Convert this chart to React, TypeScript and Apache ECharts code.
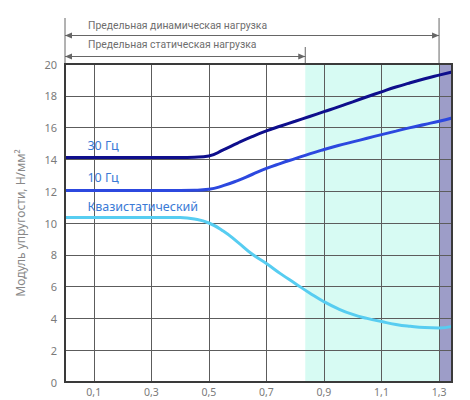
import React, { useEffect, useRef } from "react";
import * as echarts from "echarts";

const xValues = [0, 0.1, 0.2, 0.3, 0.4, 0.45, 0.5, 0.55, 0.6, 0.65, 0.7, 0.75, 0.8, 0.85, 0.9, 0.95, 1.0, 1.05, 1.1, 1.15, 1.2, 1.25, 1.3, 1.345];
const hz30 = [14.12, 14.12, 14.12, 14.12, 14.12, 14.14, 14.22, 14.6, 15.03, 15.43, 15.79, 16.1, 16.4, 16.7, 17.0, 17.3, 17.62, 17.94, 18.25, 18.55, 18.82, 19.07, 19.3, 19.5];
const hz10 = [12.05, 12.05, 12.05, 12.05, 12.05, 12.06, 12.12, 12.35, 12.67, 13.05, 13.43, 13.75, 14.05, 14.35, 14.62, 14.87, 15.1, 15.33, 15.56, 15.78, 16.0, 16.2, 16.4, 16.6];
const quasi = [10.35, 10.35, 10.35, 10.35, 10.34, 10.25, 10.0, 9.5, 8.8, 8.05, 7.45, 6.8, 6.2, 5.6, 5.05, 4.6, 4.25, 4.0, 3.8, 3.62, 3.5, 3.42, 3.4, 3.5];
const seriesNames = ["30 Гц", "10 Гц", "Квазистатический"];
const seriesLabelPos = [[0.078, 14.9], [0.078, 12.85], [0.078, 11.05]];
const xTickValues = [0.1, 0.3, 0.5, 0.7, 0.9, 1.1, 1.3];
const xMax = 1.345;
const staticLimit = 0.835;
const dynamicLimit = 1.3;
const dynamicText = "Предельная динамическая нагрузка";
const staticText = "Предельная статическая нагрузка";
const yTitle = "Модуль упругости, Н/мм²";

const FONT = "'Noto Sans', sans-serif";
const NOTE_FONT = "Roboto, 'Noto Sans', sans-serif";

export default function App() {
  const ref = useRef<HTMLDivElement>(null);
  useEffect(() => {
    document.body.style.margin = "0";
    const chart = echarts.init(ref.current!, null, { renderer: "svg" });
    const zip = (ys: number[]) => xValues.map((x, i) => [x, ys[i]]);
    const lineSeries = (name: string, ys: number[], color: string) => ({
      type: "line",
      name,
      data: zip(ys),
      smooth: 0.5,
      showSymbol: false,
      symbol: "none",
      lineStyle: { color, width: 3 },
      z: 3,
    });
    const gridColor = "#5c5c5c";
    chart.setOption({
      animation: false,
      textStyle: { fontFamily: FONT },
      grid: { left: 65, right: 18, top: 64, bottom: 18, show: false },
      xAxis: {
        type: "value",
        min: 0,
        max: xMax,
        axisLine: { show: false },
        axisTick: { show: false, customValues: xTickValues },
        axisLabel: {
          customValues: xTickValues,
          color: "#7a7a7a",
          fontSize: 10.5,
          fontFamily: FONT,
          margin: 4,
          formatter: (v: number) => String(v).replace(".", ","),
        },
        splitLine: { show: true, lineStyle: { color: gridColor, width: 1, type: "solid" } },
        z: 1,
      },
      yAxis: {
        type: "value",
        min: 0,
        max: 20,
        interval: 2,
        name: yTitle,
        nameLocation: "middle",
        nameGap: 39,
        nameTextStyle: { color: "#888", fontSize: 12, fontFamily: FONT },
        axisLine: { show: false },
        axisTick: { show: false },
        axisLabel: { color: "#7a7a7a", fontSize: 11, fontFamily: FONT, margin: 8 },
        splitLine: { show: true, lineStyle: { color: gridColor, width: 1, type: "solid" } },
        z: 1,
      },
      series: [
        {
          type: "line",
          data: [],
          z: 0,
          silent: true,
          markArea: {
            silent: true,
            z: 0,
            data: [
              [{ xAxis: staticLimit, itemStyle: { color: "#d7fbf3" } }, { xAxis: dynamicLimit }],
              [{ xAxis: dynamicLimit, itemStyle: { color: "#9d9dc8" } }, { xAxis: xMax }],
            ],
          },
        },
        lineSeries(seriesNames[0], hz30, "#0e0e8c"),
        lineSeries(seriesNames[1], hz10, "#2c48df"),
        lineSeries(seriesNames[2], quasi, "#57cdf1"),
      ],
    });

    const px = (x: number) => chart.convertToPixel({ xAxisIndex: 0 }, x) as number;
    const pt = (x: number, y: number) => chart.convertToPixel({ gridIndex: 0 }, [x, y]) as number[];
    const x0 = px(0);
    const xs = px(staticLimit);
    const xd = px(dynamicLimit);
    const xe = px(xMax);
    const top = pt(0, 20)[1];
    const bottom = pt(0, 0)[1];
    const gray = "#666";
    const yDyn = 35.5;
    const ySta = 56.5;
    const arrow = (tipX: number, y: number, dir: number) => ({
      type: "polygon",
      shape: { points: [[tipX, y], [tipX - dir * 7, y - 3], [tipX - dir * 7, y + 3]] },
      style: { fill: gray },
    });
    const vline = (x: number, y1: number) => ({
      type: "line",
      shape: { x1: x, y1, x2: x, y2: top },
      style: { stroke: gray, lineWidth: 1 },
    });
    const hline = (xa: number, xb: number, y: number) => ({
      type: "line",
      shape: { x1: xa, y1: y, x2: xb, y2: y },
      style: { stroke: gray, lineWidth: 1 },
    });
    const labelColor = "#3a7ad6";
    const labels = seriesNames.map((n, i) => {
      const p = pt(seriesLabelPos[i][0], seriesLabelPos[i][1]);
      return {
        type: "text",
        x: p[0],
        y: p[1],
        style: { text: n, fill: labelColor, fontSize: 12.5, fontFamily: FONT, textVerticalAlign: "middle", textAlign: "left" },
        z: 10,
      };
    });
    chart.setOption({
      graphic: [
        {
          type: "rect",
          shape: { x: x0, y: top, width: xe - x0, height: bottom - top },
          style: { fill: "none", stroke: "#3a3a3a", lineWidth: 2 },
          z: 20,
          silent: true,
        },
        vline(x0, 18),
        vline(xd, 18),
        vline(xs, 47),
        hline(x0, xd, yDyn),
        arrow(x0, yDyn, -1),
        arrow(xd, yDyn, 1),
        hline(x0, xs, ySta),
        arrow(x0, ySta, -1),
        arrow(xs, ySta, 1),
        {
          type: "text",
          x: 88,
          y: 25,
          style: { text: dynamicText, fill: "#6e6e6e", fontSize: 10.4, fontFamily: NOTE_FONT, textVerticalAlign: "middle" },
        },
        {
          type: "text",
          x: 88,
          y: 44.5,
          style: { text: staticText, fill: "#6e6e6e", fontSize: 10.4, fontFamily: NOTE_FONT, textVerticalAlign: "middle" },
        },
        ...labels,
      ],
    });
    return () => chart.dispose();
  }, []);
  return <div ref={ref} style={{ width: 470, height: 400 }} />;
}
